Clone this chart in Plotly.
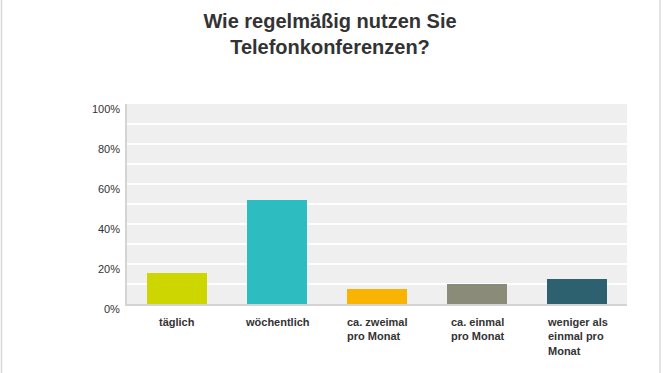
import plotly.graph_objects as go

categories = ["täglich", "wöchentlich", "ca. zweimal<br>pro Monat", "ca. einmal<br>pro Monat", "weniger als<br>einmal pro<br>Monat"]
values = [15.5, 52.0, 7.5, 10.0, 12.5]
colors = ["#cdd600", "#2dbcc0", "#f8b400", "#8a8b78", "#2e6170"]
yticks = [0, 20, 40, 60, 80, 100]
ytick_labels = ["0%", "20%", "40%", "60%", "80%", "100%"]

FONT = "Liberation Sans, Arial, Helvetica, sans-serif"
idx = list(range(len(categories)))

fig = go.Figure()
fig.add_trace(go.Bar(x=idx, y=values, marker=dict(color=colors, line=dict(width=0)),
                     width=0.6, hoverinfo="skip"))

annotations = []
for i, c in zip(idx, categories):
    annotations.append(dict(x=i, y=0, xref="x", yref="y", text=c, showarrow=False,
                            xanchor="center", yanchor="top", align="left", yshift=-10,
                            font=dict(family=FONT, size=11, color="#333333", weight="bold")))
for v, t in zip(yticks, ytick_labels):
    annotations.append(dict(x=0, y=v, xref="paper", yref="y", text=t, showarrow=False,
                            xanchor="right", yanchor="middle", xshift=-5, yshift=-5,
                            font=dict(family=FONT, size=11, color="#333333")))

shapes = [
    dict(type="line", xref="paper", yref="paper", x0=-0.251, x1=-0.251, y0=-0.4, y1=1.6,
         line=dict(color="#d8d8d8", width=1.5)),
    dict(type="line", xref="paper", yref="paper", x0=1.066, x1=1.066, y0=-0.4, y1=1.6,
         line=dict(color="#d8d8d8", width=1.5)),
]

fig.update_layout(
    width=670, height=373,
    margin=dict(l=127, r=43, t=104, b=69),
    paper_bgcolor="white", plot_bgcolor="#efefef",
    showlegend=False,
    title=dict(text="Wie regelmäßig nutzen Sie<br>Telefonkonferenzen?",
               x=330 / 670, xanchor="center", y=1 - 28 / 373, yanchor="top", yref="container",
               font=dict(family=FONT, size=20, color="#333333", weight="bold")),
    xaxis=dict(range=[-0.5, 4.5], showticklabels=False, showgrid=False, zeroline=False,
               showline=True, linecolor="#d4d4d4", linewidth=2, fixedrange=True),
    yaxis=dict(range=[0, 100], dtick=10, showticklabels=False, showgrid=True,
               gridcolor="#ffffff", gridwidth=1.5, zeroline=False,
               showline=True, linecolor="#d4d4d4", linewidth=2, fixedrange=True),
    annotations=annotations, shapes=shapes,
)

fig.write_html("out.html", config={"displayModeBar": False},
               post_script="document.body.style.margin='0';document.body.style.overflow='hidden';")
